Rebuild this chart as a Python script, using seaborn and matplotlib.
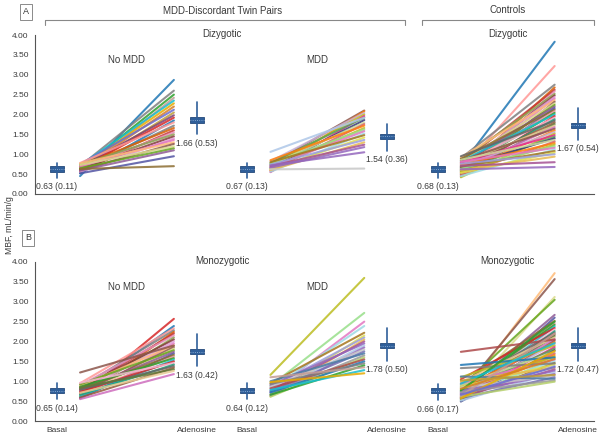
import numpy as np
import pandas as pd
import matplotlib
matplotlib.use('Agg')
import matplotlib.pyplot as plt
from matplotlib.lines import Line2D
import seaborn as sns

sns.set_style('white')
plt.rcParams['font.family'] = ['Liberation Sans', 'DejaVu Sans']

# --- data (MBF, mL/min/g) ---
groups = ['No MDD', 'MDD', 'Controls']
tick_names = ['Basal', 'Adenosine']

# Panel A (dizygotic)
noA_basal = [0.45, 0.70, 0.62, 0.55, 0.72, 0.66, 0.60, 0.75, 0.58, 0.68,
             0.64, 0.52, 0.78, 0.61, 0.70, 0.57, 0.66, 0.74, 0.63, 0.55,
             0.69, 0.77, 0.60, 0.73, 0.65, 0.59, 0.52, 0.63]
noA_aden = [2.87, 2.60, 2.50, 2.42, 2.35, 2.28, 2.20, 2.12, 2.05, 1.98,
            1.92, 1.85, 1.80, 1.72, 1.66, 1.60, 1.55, 1.50, 1.45, 1.40,
            1.36, 1.30, 1.26, 1.20, 1.15, 1.10, 0.95, 0.70]
mddA_basal = [0.75, 0.60, 0.82, 0.70, 0.55, 0.78, 0.66, 0.72, 0.58, 0.85,
              0.64, 0.76, 0.68, 0.56, 0.80, 0.62, 0.74, 0.60, 0.70, 0.66,
              1.06, 0.72, 0.62]
mddA_aden = [2.10, 2.08, 2.04, 2.00, 1.96, 1.92, 1.86, 1.80, 1.76, 1.72,
             1.66, 1.62, 1.58, 1.52, 1.48, 1.42, 1.36, 1.30, 1.24, 1.18,
             1.92, 1.05, 0.64]
ctrlA_basal = [0.70, 0.62, 0.90, 0.55, 0.78, 0.48, 0.85, 0.66, 0.72, 0.58,
               0.92, 0.44, 0.80, 0.63, 0.75, 0.52, 0.88, 0.68, 0.60, 0.82,
               0.46, 0.74, 0.57, 0.95, 0.65, 0.50, 0.77, 0.61, 0.84, 0.54,
               0.70, 0.42, 0.79, 0.59, 0.67, 0.86, 0.49, 0.73, 0.56, 0.64,
               0.81, 0.45, 0.69, 0.53, 0.76, 0.60, 0.71, 0.62]
ctrlA_aden = [3.83, 3.22, 2.75, 2.68, 2.62, 2.58, 2.52, 2.48, 2.44, 2.40,
              2.36, 2.32, 2.28, 2.24, 2.20, 2.16, 2.12, 2.08, 2.04, 2.00,
              1.96, 1.92, 1.88, 1.84, 1.80, 1.76, 1.72, 1.68, 1.64, 1.60,
              1.56, 1.52, 1.48, 1.44, 1.40, 1.36, 1.32, 1.28, 1.24, 1.20,
              1.16, 1.12, 1.08, 1.04, 1.00, 0.94, 0.80, 0.68]

# Panel B (monozygotic)
noB_basal = [0.62, 0.70, 0.95, 0.85, 0.58, 0.78, 0.90, 0.66, 0.82, 0.74,
             0.60, 0.88, 0.70, 0.64, 0.92, 0.76, 0.57, 0.80, 0.68, 0.86,
             0.62, 0.73, 0.96, 0.66, 0.79, 0.59, 0.84, 0.71, 0.55, 1.22]
noB_aden = [2.57, 2.39, 2.33, 2.28, 2.24, 2.20, 2.15, 2.10, 2.05, 2.00,
            1.95, 1.90, 1.86, 1.82, 1.78, 1.74, 1.70, 1.66, 1.62, 1.58,
            1.54, 1.50, 1.46, 1.42, 1.38, 1.34, 1.30, 1.26, 1.18, 1.90]
mddB_basal = [1.16, 0.88, 0.72, 0.80, 0.95, 0.66, 0.84, 0.62, 0.76, 0.90,
              0.70, 0.64, 0.86, 0.74, 1.00, 0.68, 0.61, 0.82, 0.72, 0.93,
              0.66, 1.10, 0.78, 0.98]
mddB_aden = [3.60, 2.72, 2.50, 2.39, 2.22, 2.15, 2.10, 2.05, 2.00, 1.95,
             1.90, 1.85, 1.80, 1.75, 1.70, 1.65, 1.60, 1.55, 1.50, 1.45,
             1.40, 1.35, 1.28, 1.20]
ctrlB_basal = [0.60, 0.72, 0.55, 0.85, 0.68, 0.50, 0.92, 0.63, 0.78, 0.57,
               1.05, 0.66, 0.52, 0.88, 0.74, 0.59, 0.98, 0.70, 0.54, 0.82,
               0.64, 1.10, 0.58, 0.76, 0.49, 0.90, 0.67, 0.62, 0.80, 0.53,
               0.95, 0.71, 0.56, 0.86, 0.65, 1.00, 0.60, 0.75, 0.51, 0.69,
               0.84, 0.58, 1.12, 0.73, 0.61, 1.74, 1.41, 1.33,
               0.77, 0.63, 0.94, 0.57, 0.81, 0.66, 1.02]
ctrlB_aden = [3.72, 3.57, 3.12, 3.05, 2.67, 2.60, 2.52, 2.46, 2.42, 2.38,
              2.34, 2.30, 2.26, 2.22, 2.18, 2.14, 2.10, 2.06, 2.02, 1.98,
              1.94, 1.90, 1.86, 1.82, 1.78, 1.74, 1.70, 1.66, 1.62, 1.58,
              1.54, 1.50, 1.46, 1.42, 1.38, 1.34, 1.30, 1.26, 1.22, 1.18,
              1.14, 1.10, 1.06, 1.02, 0.99, 2.05, 1.60, 1.45,
              2.50, 2.20, 1.96, 1.76, 1.56, 1.36, 1.16]

# summary glyphs (basal, adenosine) x 3 groups
A_box_mid = [0.63, 1.86, 0.63, 1.45, 0.63, 1.73]
A_box_lo = [0.41, 1.51, 0.41, 1.09, 0.41, 1.36]
A_box_hi = [0.79, 2.31, 0.79, 1.76, 0.78, 2.16]
A_labels = ['0.63 (0.11)', '1.66 (0.53)', '0.67 (0.13)', '1.54 (0.36)', '0.68 (0.13)', '1.67 (0.54)']
B_box_mid = [0.76, 1.74, 0.76, 1.89, 0.76, 1.89]
B_box_lo = [0.55, 1.38, 0.55, 1.52, 0.52, 1.52]
B_box_hi = [0.95, 2.19, 0.95, 2.33, 0.93, 2.33]
B_labels = ['0.65 (0.14)', '1.63 (0.42)', '0.64 (0.12)', '1.78 (0.50)', '0.66 (0.17)', '1.72 (0.47)']

# --- layout ---
W, H = 601, 437
offsets = [0.0, 1.36, 2.72]
BOX_BLUE = '#2f5f9a'
AX_COL = '#555555'
TXT = '#3a3a3a'

base_pal = (sns.color_palette('tab10', 10) + sns.color_palette('tab20', 20)
            + sns.color_palette('Dark2', 8) + sns.color_palette('Set1', 9, desat=0.7)
            + sns.color_palette('tab20b', 20))


def pal_for(n, start):
    return [base_pal[(start + i * 7) % len(base_pal)] for i in range(n)]


def fx(px):
    return px / W


def fy(py):
    return 1 - py / H


def draw_pairs(ax, off, basal, aden, start):
    n = len(basal)
    df = pd.DataFrame({
        'pair': np.repeat(['p%d' % i for i in range(n)], 2),
        'x': np.tile([off + 0.165, off + 0.835], n),
        'mbf': np.column_stack([basal, aden]).ravel(),
    })
    sns.lineplot(data=df, x='x', y='mbf', hue='pair', palette=pal_for(n, start),
                 estimator=None, legend=False, ax=ax, lw=1.5, alpha=0.85)


def draw_boxes(ax, mids, los, his, labels):
    pos = [o + k for o in offsets for k in (0, 1)]
    stats = [{'med': m, 'q1': m - 0.065, 'q3': m + 0.065, 'whislo': lo, 'whishi': hi, 'fliers': []}
             for m, lo, hi in zip(mids, los, his)]
    ax.bxp(stats, positions=pos, widths=0.1, patch_artist=True, showcaps=False,
           manage_ticks=False,
           boxprops=dict(facecolor=BOX_BLUE, edgecolor='#24497a', lw=0.6),
           medianprops=dict(color='#9fbde0', lw=0.6, ls=':'),
           whiskerprops=dict(color=BOX_BLUE, lw=1.2))
    for x, lo, lab in zip(pos, los, labels):
        ax.annotate(lab, (x, lo), xytext=(0, -6.5), textcoords='offset points',
                    ha='center', va='center', fontsize=6.2, color=TXT)


def style_axis(ax, show_labels):
    ax.set_xlim(-0.157, 3.836)
    ax.set_ylim(0, 4)
    ax.set_yticks(np.arange(0, 4.01, 0.5))
    ax.set_yticklabels(['%.2f' % v for v in np.arange(0, 4.01, 0.5)])
    ticks = [o + k for o in offsets for k in (0, 1)]
    ax.set_xticks(ticks)
    ax.set_xticklabels(tick_names * 3 if show_labels else [])
    ax.set_xlabel('')
    ax.set_ylabel('')
    for s in ['top', 'right']:
        ax.spines[s].set_visible(False)
    for s in ['left', 'bottom']:
        ax.spines[s].set_color(AX_COL)
        ax.spines[s].set_linewidth(0.8)
    ax.tick_params(axis='both', direction='out', length=3, width=0.7,
                   color=AX_COL, labelsize=6, labelcolor=TXT, pad=1.5)
    ax.patch.set_alpha(0)


fig = plt.figure(figsize=(W / 100, H / 100), dpi=100)
axA = fig.add_axes([fx(35), fy(194), fx(594) - fx(35), 159 / H])
axB = fig.add_axes([fx(35), fy(421), fx(594) - fx(35), 159 / H])

panels = [
    (axA, [(noA_basal, noA_aden), (mddA_basal, mddA_aden), (ctrlA_basal, ctrlA_aden)],
     A_box_mid, A_box_lo, A_box_hi, A_labels, 'Dizygotic', False),
    (axB, [(noB_basal, noB_aden), (mddB_basal, mddB_aden), (ctrlB_basal, ctrlB_aden)],
     B_box_mid, B_box_lo, B_box_hi, B_labels, 'Monozygotic', True),
]

for ax, sets, mids, los, his, labs, zyg, show in panels:
    for gi, (off, (b, a)) in enumerate(zip(offsets, sets)):
        draw_pairs(ax, off, b, a, start=gi * 5 + (3 if show else 0))
    draw_boxes(ax, mids, los, his, labs)
    style_axis(ax, show)
    ax.text(offsets[0] + 0.5, 3.37, 'No MDD', ha='center', va='center', fontsize=7, color=TXT)
    ax.text(offsets[1] + 0.5, 3.37, 'MDD', ha='center', va='center', fontsize=7, color=TXT)
    ax.text((offsets[0] + offsets[1] + 1) / 2, 4.03, zyg, ha='center', va='center',
            fontsize=7, color=TXT, clip_on=False)
    ax.text(offsets[2] + 0.5, 4.03, zyg, ha='center', va='center',
            fontsize=7, color=TXT, clip_on=False)

# header brackets
fig.text(fx(223), fy(11), 'MDD-Discordant Twin Pairs', ha='center', va='center', fontsize=7, color=TXT)
fig.text(fx(508), fy(10), 'Controls', ha='center', va='center', fontsize=7, color=TXT)
for x0, x1 in [(45, 405), (422, 594)]:
    fig.add_artist(Line2D([fx(x0), fx(x0), fx(x1), fx(x1)], [fy(25), fy(20), fy(20), fy(25)],
                          transform=fig.transFigure, color='#888888', lw=0.8))

# panel letters
for lab, x, y in [('A', 26, 12), ('B', 28, 238)]:
    fig.text(fx(x), fy(y), lab, ha='center', va='center', fontsize=6.5, color=TXT,
             bbox=dict(boxstyle='square,pad=0.35', fc='white', ec='#777777', lw=0.6))

fig.text(fx(10), fy(225), 'MBF, mL/min/g', rotation=90, ha='center', va='center',
         fontsize=6.2, color=TXT)

fig.savefig('out.png', dpi=100)
